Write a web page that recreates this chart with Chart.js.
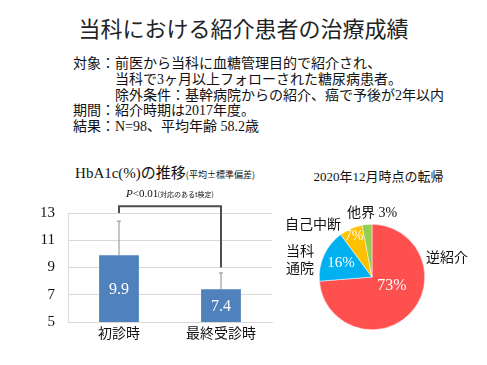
<!DOCTYPE html>
<html>
<head>
<meta charset="utf-8">
<script src="https://cdn.jsdelivr.net/npm/chart.js@4/dist/chart.umd.min.js"></script>
<style>
  html, body { margin: 0; padding: 0; background: #fff; }
  body { width: 487px; height: 365px; position: relative; overflow: hidden;
         font-family: 'Liberation Serif', 'Noto Sans CJK JP', sans-serif; color: #111; }
  .title { position: absolute; left: 0; width: 487px; top: 12px; text-align: center;
           font-family: 'Noto Sans CJK JP', sans-serif; font-size: 22px; line-height: 30px; color: #222; }
  .body { position: absolute; left: 73px; top: 56px; font-size: 14px; line-height: 15.8px; }
  .body div { white-space: nowrap; }
  .ind { padding-left: 42px; }
  .barTitle { position: absolute; left: 0; width: 330px; top: 163px; text-align: center;
              font-size: 15px; line-height: 20px; }
  .barTitle small { font-size: 9px; font-family: 'Noto Sans CJK JP', sans-serif; }
  .pieTitle { position: absolute; left: 270px; width: 217px; top: 168px; text-align: center;
              font-size: 13px; line-height: 18px; }
  #barBox { position: absolute; left: 0; top: 150px; width: 290px; height: 215px; }
  #pieBox { position: absolute; left: 270px; top: 160px; width: 217px; height: 205px; }
</style>
</head>
<body>
<div class="title">当科における紹介患者の治療成績</div>
<div class="body">
  <div>対象：前医から当科に血糖管理目的で紹介され、</div>
  <div class="ind">当科で3ヶ月以上フォローされた糖尿病患者。</div>
  <div class="ind">除外条件：基幹病院からの紹介、癌で予後が2年以内</div>
  <div>期間：紹介時期は2017年度。</div>
  <div>結果：N=98、平均年齢 58.2歳</div>
</div>
<div class="barTitle">HbA1c(%)の推移<small>(平均±標準偏差)</small></div>
<div class="pieTitle">2020年12月時点の転帰</div>
<div id="barBox"><canvas id="barChart"></canvas></div>
<div id="pieBox"><canvas id="pieChart"></canvas></div>
<script>
// HbA1c data
const visitLabels = ['初診時', '最終受診時'];
const hba1cMean = [9.9, 7.4];
const hba1cSd = [2.5, 1.2];
const yTicks = [5, 7, 9, 11, 13];
const bracketTop = 13.5;
const bracketLegs = [13, 9];
const pText = 'P<0.01';
const pNote = '(対応のあるt検定)';

// outcome data (%)
const outcomeLabels = ['逆紹介', '当科\n通院', '自己中断', '他界'];
const outcomeValues = [73, 16, 7, 3];
const outcomeColors = ['#FF5050', '#00B0F0', '#FFC000', '#92D050'];

const serif = "'Liberation Serif', 'Noto Sans CJK JP', serif";
const sans = "'Noto Sans CJK JP', sans-serif";

const barExtras = {
    id: 'barExtras',
    afterDatasetsDraw: (chart) => {
        const ctx = chart.ctx;
        const meta = chart.getDatasetMeta(0);
        const y = chart.scales.y;
        const bottom = chart.chartArea.bottom;
        ctx.save();
        // error bars (upper only)
        ctx.strokeStyle = '#8C8C8C';
        ctx.lineWidth = 1;
        meta.data.forEach((bar, i) => {
            const top = y.getPixelForValue(hba1cMean[i] + hba1cSd[i]);
            ctx.beginPath();
            ctx.moveTo(bar.x, bar.y);
            ctx.lineTo(bar.x, top);
            ctx.moveTo(bar.x - 2, top);
            ctx.lineTo(bar.x + 2, top);
            ctx.stroke();
        });
        // value labels
        ctx.fillStyle = '#fff';
        ctx.font = '16px ' + serif;
        ctx.textAlign = 'center';
        ctx.textBaseline = 'middle';
        meta.data.forEach((bar, i) => {
            ctx.fillText(hba1cMean[i].toFixed(1), bar.x, (bar.y + bottom) / 2 + 1);
        });
        // significance bracket
        const x0 = meta.data[0].x, x1 = meta.data[1].x;
        const yb = y.getPixelForValue(bracketTop);
        ctx.strokeStyle = '#4D4D4D';
        ctx.lineWidth = 2;
        ctx.beginPath();
        ctx.moveTo(x0, y.getPixelForValue(bracketLegs[0]));
        ctx.lineTo(x0, yb);
        ctx.lineTo(x1, yb);
        ctx.lineTo(x1, y.getPixelForValue(bracketLegs[1]));
        ctx.stroke();
        // p value text
        ctx.fillStyle = '#111';
        ctx.textBaseline = 'alphabetic';
        ctx.textAlign = 'left';
        ctx.font = '11px ' + serif;
        const w1 = ctx.measureText(pText).width;
        ctx.font = '7px ' + sans;
        const w2 = ctx.measureText(pNote).width;
        let tx = (x0 + x1) / 2 - (w1 + w2) / 2;
        const ty = yb - 9;
        ctx.font = 'italic 11px ' + serif;
        ctx.fillText('P', tx, ty);
        const wp = ctx.measureText('P').width;
        ctx.font = '11px ' + serif;
        ctx.fillText(pText.slice(1), tx + wp, ty);
        ctx.font = '7px ' + sans;
        ctx.fillText(pNote, tx + w1, ty);
        ctx.restore();
    }
};

new Chart(document.getElementById('barChart'), {
    type: 'bar',
    data: {
        labels: visitLabels,
        datasets: [{
            data: hba1cMean,
            backgroundColor: '#4F81BD',
            categoryPercentage: 1,
            barPercentage: 0.39
        }]
    },
    options: {
        responsive: true,
        maintainAspectRatio: false,
        animation: false,
        events: [],
        layout: { padding: { top: 63, right: 18, left: 0, bottom: 0 } },
        scales: {
            x: {
                grid: { display: false, drawTicks: false },
                border: { color: '#D9D9D9' },
                ticks: { color: '#111', font: { family: sans, size: 14 }, padding: 2 },
                afterFit: (scale) => { scale.height = 43; }
            },
            y: {
                min: 5,
                max: 13,
                afterBuildTicks: (scale) => { scale.ticks = yTicks.map(v => ({ value: v })); },
                grid: { color: '#D9D9D9', drawTicks: false },
                border: { color: '#D9D9D9' },
                ticks: { color: '#111', font: { family: serif, size: 15 }, padding: 13 },
                afterFit: (scale) => { scale.width = 68; }
            }
        },
        plugins: {
            legend: { display: false },
            tooltip: { enabled: false }
        }
    },
    plugins: [barExtras]
});

// label offsets relative to the pie centre (px)
const outerPos = [[75, -19], [-72, -16], [-59, -52], [0, -64]];
const innerPos = [[20, 9], [-31, -14], [-18, -41]];
const innerSize = [16, 15, 14];

const pieLabels = {
    id: 'pieLabels',
    afterDatasetsDraw: (chart) => {
        const ctx = chart.ctx;
        const arc = chart.getDatasetMeta(0).data[0];
        const cx = arc.x, cy = arc.y;
        ctx.save();
        ctx.textAlign = 'center';
        ctx.textBaseline = 'middle';
        // inner percentages
        ctx.fillStyle = '#fff';
        innerPos.forEach((p, i) => {
            ctx.font = innerSize[i] + 'px ' + serif;
            ctx.fillText(outcomeValues[i] + '%', cx + p[0], cy + p[1]);
        });
        // outer category labels
        ctx.fillStyle = '#111';
        outerPos.forEach((p, i) => {
            let txt = outcomeLabels[i];
            if (i === 3) txt += ' ' + outcomeValues[i] + '%';
            const lines = txt.split('\n');
            ctx.font = '14px ' + serif;
            lines.forEach((ln, k) => {
                ctx.fillText(ln, cx + p[0], cy + p[1] + (k - (lines.length - 1) / 2) * 17);
            });
        });
        ctx.restore();
    }
};

new Chart(document.getElementById('pieChart'), {
    type: 'pie',
    data: {
        labels: outcomeLabels,
        datasets: [{
            data: outcomeValues,
            backgroundColor: outcomeColors,
            borderColor: '#fff',
            borderWidth: 0.5,
            hoverOffset: 0
        }]
    },
    options: {
        responsive: true,
        maintainAspectRatio: false,
        animation: false,
        events: [],
        layout: { padding: { top: 64, bottom: 35, left: 45, right: 58 } },
        plugins: {
            legend: { display: false },
            tooltip: { enabled: false }
        }
    },
    plugins: [pieLabels]
});
</script>
</body>
</html>
